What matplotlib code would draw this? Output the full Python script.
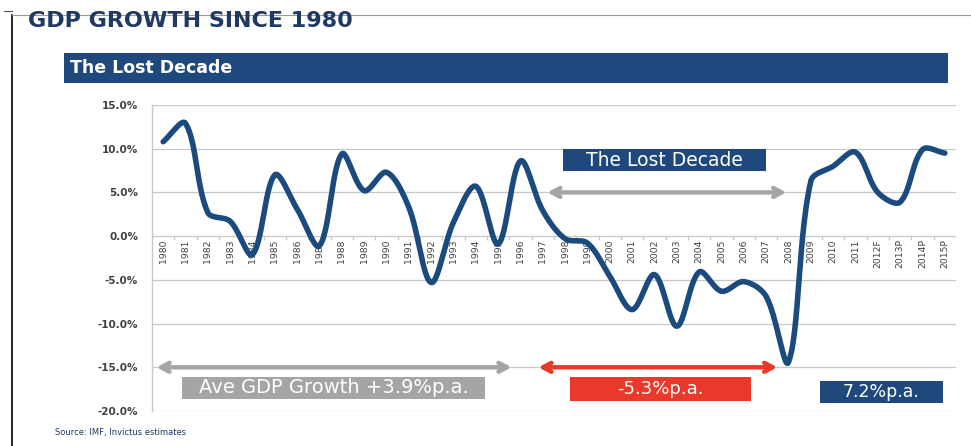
import numpy as np
import matplotlib
matplotlib.use('Agg')
import matplotlib.pyplot as plt
from matplotlib.patches import Rectangle
from matplotlib.lines import Line2D

years = ['1980', '1981', '1982', '1983', '1984', '1985', '1986', '1987', '1988', '1989',
         '1990', '1991', '1992', '1993', '1994', '1995', '1996', '1997', '1998', '1999',
         '2000', '2001', '2002', '2003', '2004', '2005', '2006', '2007', '2008', '2009',
         '2010', '2011', '2012F', '2013P', '2014P', '2015P']
gdp = [10.8, 12.9, 2.7, 1.7, -2.1, 7.0, 3.1, -1.1, 9.4, 5.2,
       7.3, 3.3, -5.3, 1.6, 5.7, -0.9, 8.6, 2.9, -0.3, -0.8,
       -4.6, -8.4, -4.4, -10.3, -4.1, -6.3, -5.2, -6.9, -14.4, 6.3,
       8.0, 9.6, 5.0, 3.9, 9.9, 9.5]
y_ticks = [15, 10, 5, 0, -5, -10, -15, -20]

navy = '#1F497D'
line_col = '#1B4A7E'
grey = '#A5A5A5'
red = '#E8392B'
font = 'DejaVu Sans'


def smooth(x, y, sx=22.3, sy=8.74, n=30):
    # smoothed line like excel: bezier segments, tangents split by segment length
    P = np.column_stack([np.asarray(x, float), np.asarray(y, float)])
    S = np.array([sx, sy])
    m = len(P)
    cout = np.zeros_like(P)
    cin = np.zeros_like(P)
    for i in range(m):
        prv = P[max(i - 1, 0)]
        nxt = P[min(i + 1, m - 1)]
        T = nxt - prv
        dp = np.linalg.norm((P[i] - prv) * S)
        dn = np.linalg.norm((nxt - P[i]) * S)
        tot = dp + dn if dp + dn > 0 else 1.0
        cout[i] = P[i] + T * dn / tot / 3
        cin[i] = P[i] - T * dp / tot / 3
    t = np.linspace(0, 1, n)[:, None]
    xs, ys = [], []
    for i in range(m - 1):
        p0, p1, p2, p3 = P[i], cout[i], cin[i + 1], P[i + 1]
        b = (1 - t) ** 3 * p0 + 3 * (1 - t) ** 2 * t * p1 + 3 * (1 - t) * t ** 2 * p2 + t ** 3 * p3
        xs.extend(b[:, 0])
        ys.extend(b[:, 1])
    return np.array(xs), np.array(ys)


fig = plt.figure(figsize=(9.71, 4.46), dpi=100)
fig.patch.set_facecolor('white')

# page frame
fig.add_artist(Line2D([12 / 971, 12 / 971], [0, 1 - 15 / 446], color='black', lw=1.2))
fig.add_artist(Line2D([12 / 971, 1], [1 - 15 / 446, 1 - 15 / 446], color='#9a9a9a', lw=0.8))
fig.add_artist(Line2D([4 / 971, 12 / 971], [1 - 11 / 446, 1 - 11 / 446], color='#555555', lw=0.8))

fig.text(28 / 971, 1 - 21 / 446, 'GDP GROWTH SINCE 1980', fontsize=16, fontweight='bold',
         color='#1F3864', family=font, va='center', ha='left')

fig.add_artist(Rectangle((64 / 971, 1 - 83 / 446), (948 - 64) / 971, 30 / 446,
                         transform=fig.transFigure, color=navy, lw=0))
fig.text(70 / 971, 1 - 68 / 446, 'The Lost Decade', fontsize=12.5, fontweight='bold',
         color='white', family=font, va='center', ha='left')

fig.text(55 / 971, 1 - 433 / 446, 'Source: IMF, Invictus estimates', fontsize=6,
         color='#1F3864', family=font, va='center', ha='left')

ax = fig.add_axes([152 / 971, 1 - 411 / 446, (956 - 152) / 971, (411 - 105) / 446])
x = np.arange(len(years))
ax.set_xlim(-0.5, len(years) - 0.5)
ax.set_ylim(-20, 15)

for v in y_ticks:
    ax.axhline(v, color='#C8C8C8', lw=0.9, zorder=1)
ax.vlines(np.arange(len(years) + 1) - 0.5, -0.45, 0, color='#C8C8C8', lw=0.9, zorder=1)

for s in ['top', 'right', 'bottom']:
    ax.spines[s].set_visible(False)
ax.spines['left'].set_color('#C8C8C8')
ax.spines['left'].set_linewidth(1.0)
ax.set_xticks([])
ax.set_yticks(y_ticks)
ax.set_yticklabels(['%.1f%%' % v for v in y_ticks], fontsize=7.5, fontweight='bold',
                   color='#404040', family=font)
ax.tick_params(axis='y', length=0, pad=10)

for i, lab in enumerate(years):
    ax.text(i, -0.35, lab, rotation=90, ha='center', va='top', fontsize=6.7,
            color='#404040', family=font, zorder=2)

sx, sy = smooth(x, gdp)
ax.plot(sx, sy, color=line_col, lw=4.0, solid_capstyle='round', zorder=4)


def double_arrow(x0, x1, yv, col):
    ax.annotate('', xy=(x1, yv), xytext=(x0, yv),
                arrowprops=dict(arrowstyle='<->,head_length=0.6,head_width=0.32',
                                color=col, lw=3.2, shrinkA=0, shrinkB=0), zorder=3)


def label_box(x0, x1, y0, y1, text, col, size=13):
    ax.add_patch(Rectangle((x0, y0), x1 - x0, y1 - y0, color=col, lw=0, zorder=3))
    ax.text((x0 + x1) / 2, (y0 + y1) / 2, text, color='white', fontsize=size,
            ha='center', va='center', family=font, zorder=5)


label_box(17.9, 27.0, 7.4, 9.95, 'The Lost Decade', navy, 13.5)
double_arrow(17.2, 27.9, 5.0, grey)

double_arrow(-0.3, 15.6, -15.0, grey)
label_box(0.85, 14.4, -18.6, -16.1, 'Ave GDP Growth +3.9%p.a.', grey, 14)
double_arrow(16.8, 27.5, -15.0, red)
label_box(18.2, 26.3, -18.8, -16.1, '-5.3%p.a.', red, 13)
double_arrow(28.3, 35.7, -15.0, navy)
label_box(29.4, 34.9, -19.1, -16.6, '7.2%p.a.', navy, 12.5)

fig.savefig('out.png', dpi=100)
